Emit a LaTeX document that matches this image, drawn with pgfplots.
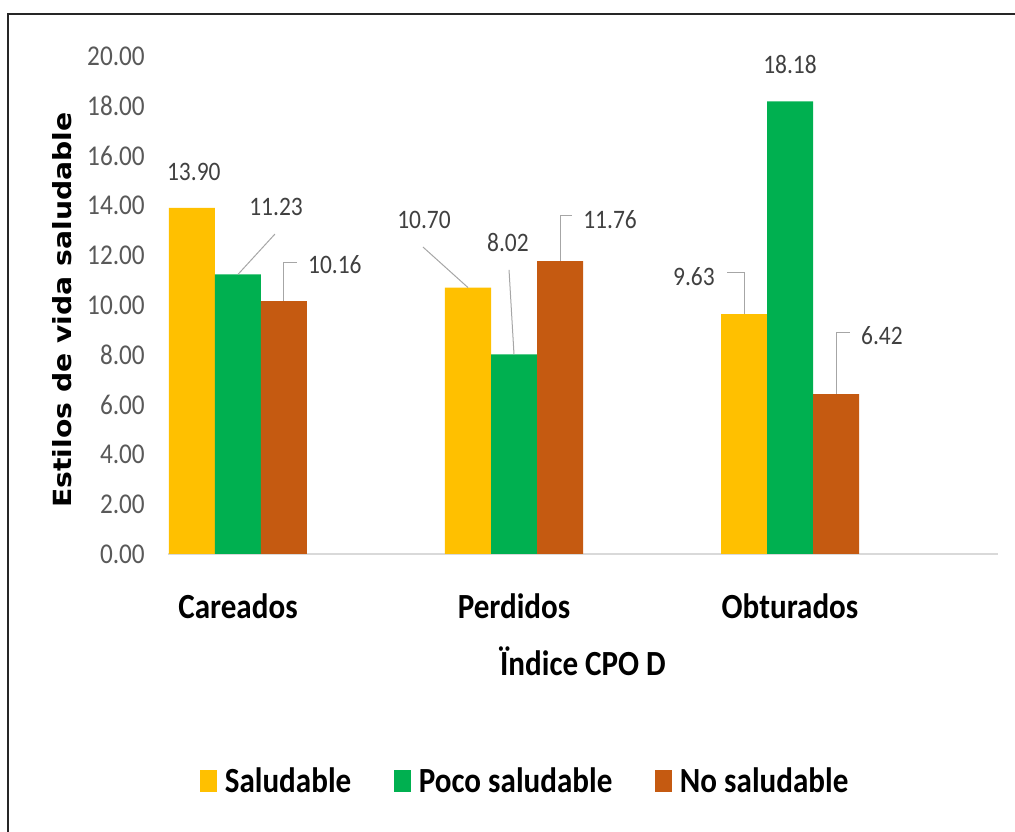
\documentclass[border=0pt]{standalone}
\usepackage{pgfplots}
\pgfplotsset{compat=1.18}
\usepackage{fontspec}
\setmainfont{Carlito}[FakeStretch=0.88]
\newfontfamily\ylabfont{DejaVu Sans}[FakeStretch=1.13]
\definecolor{cYel}{HTML}{FFC000}
\definecolor{cGrn}{HTML}{00B050}
\definecolor{cBrn}{HTML}{C55A11}
\definecolor{cTick}{HTML}{595959}
\definecolor{cLab}{HTML}{404040}
\definecolor{cLead}{HTML}{A6A6A6}
\definecolor{cAxis}{HTML}{D9D9D9}
\tikzset{lbl/.style={font=\fontsize{20}{24}\selectfont, text=cLab, inner sep=0pt},
  lead/.style={cLead, line width=0.75pt}}
\begin{document}
\begin{tikzpicture}
\path[use as bounding box] (0pt,0pt) rectangle (761.25pt,624pt);
\draw[line width=1.5pt, color=black!85] (6pt,0pt) -- (6pt,613.5pt) -- (761.25pt,613.5pt);
\begin{axis}[
  at={(126pt,208.5pt)}, anchor=south west,
  scale only axis, width=622.5pt, height=373.5pt,
  xmin=-0.2536, xmax=2.7536, ymin=0, ymax=20,
  clip=false,
  axis x line*=bottom, axis y line*=left,
  x axis line style={cAxis, line width=1.1pt, -},
  y axis line style={draw=none},
  major tick length=0pt, tick style={draw=none},
  xtick={0,1,2}, xticklabels={Careados,Perdidos,Obturados},
  xticklabel style={font=\fontsize{26.5}{31}\selectfont\bfseries, anchor=base, yshift=-48.75pt, text=black},
  ytick={0,2,...,20},
  yticklabel style={font=\fontsize{21.5}{25}\selectfont, text=cTick, anchor=east, inner sep=0pt, xshift=-17.25pt},
  /pgf/number format/fixed, /pgf/number format/fixed zerofill, /pgf/number format/precision=2,
  /pgf/number format/assume math mode=true,
  xlabel={Ïndice CPO D},
  xlabel style={at={(axis description cs:0.5,-0.243)}, anchor=base, font=\fontsize{26.5}{31}\selectfont\bfseries},
  ylabel={Estilos de vida saludable},
  every axis y label/.style={at={(axis description cs:-0.1277,0.49)}, rotate=90, anchor=center, font=\ylabfont\bfseries\fontsize{18.75}{22}\selectfont},
  ybar=0pt, bar width=0.16667,
  legend image code/.code={\fill[#1] (0pt,-8.25pt) rectangle (12.75pt,8.25pt);},
  legend columns=3,
  legend style={at={(axis description cs:0.429,-0.456)}, anchor=center, draw=none, fill=none,
    font=\fontsize{26.5}{31}\selectfont\bfseries,
    nodes={inner sep=0pt},
    /tikz/every odd column/.append style={column sep=6pt},
    /tikz/every even column/.append style={column sep=32pt}},
]
\addplot[draw=none, fill=cYel, bar shift=-0.16667] coordinates {(0,13.90) (1,10.70) (2,9.63)};
\addplot[draw=none, fill=cGrn, bar shift=0] coordinates {(0,11.23) (1,8.02) (2,18.18)};
\addplot[draw=none, fill=cBrn, bar shift=0.16667] coordinates {(0,10.16) (1,11.76) (2,6.42)};
\legend{Saludable, Poco saludable, No saludable}
% data labels and leader lines
\node[lbl] at (axis cs:-0.16,15.34) {13.90};
\node[lbl] at (axis cs:0.138,13.94) {11.23};
\draw[lead] (axis cs:0.134,12.85) -- (axis cs:0,11.23);
\node[lbl] at (axis cs:0.351,11.61) {10.16};
\draw[lead] (axis cs:0.214,11.69) -- (axis cs:0.16667,11.69) -- (axis cs:0.16667,10.16);
\node[lbl] at (axis cs:0.674,13.41) {10.70};
\draw[lead] (axis cs:0.670,12.33) -- (axis cs:0.83333,10.70);
\node[lbl] at (axis cs:0.978,12.49) {8.02};
\draw[lead] (axis cs:0.982,11.41) -- (axis cs:1,8.02);
\node[lbl] at (axis cs:1.348,13.41) {11.76};
\draw[lead] (axis cs:1.210,13.61) -- (axis cs:1.16667,13.61) -- (axis cs:1.16667,11.76);
\node[lbl] at (axis cs:1.652,11.16) {9.63};
\draw[lead] (axis cs:1.772,11.29) -- (axis cs:1.83333,11.29) -- (axis cs:1.83333,9.63);
\node[lbl] at (axis cs:2,19.64) {18.18};
\node[lbl] at (axis cs:2.333,8.76) {6.42};
\draw[lead] (axis cs:2.217,8.88) -- (axis cs:2.16667,8.88) -- (axis cs:2.16667,6.42);
\end{axis}
\end{tikzpicture}
\end{document}
